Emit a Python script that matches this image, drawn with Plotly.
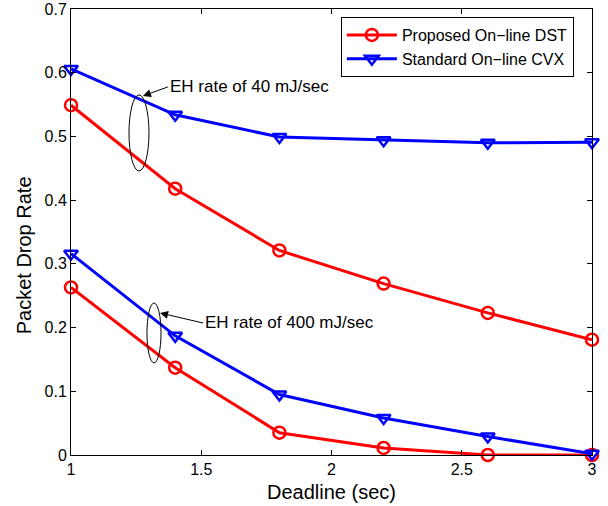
import plotly.graph_objects as go

deadline = [1.0, 1.4, 1.8, 2.2, 2.6, 3.0]
dst_40 = [0.549, 0.418, 0.321, 0.269, 0.223, 0.181]
cvx_40 = [0.606, 0.534, 0.499, 0.494, 0.490, 0.491]
dst_400 = [0.263, 0.137, 0.035, 0.011, 0.0, 0.0]
cvx_400 = [0.316, 0.187, 0.095, 0.058, 0.029, 0.002]

x_ticks = [1, 1.5, 2, 2.5, 3]
x_tick_labels = ["1", "1.5", "2", "2.5", "3"]
y_ticks = [0, 0.1, 0.2, 0.3, 0.4, 0.5, 0.6, 0.7]
y_tick_labels = ["0", "0.1", "0.2", "0.3", "0.4", "0.5", "0.6", "0.7"]

RED = "#ff0000"
BLUE = "#0000ff"
FONT = "Liberation Sans, Arial, Helvetica, sans-serif"

fig = go.Figure()

def add(y, color, symbol, name, show):
    fig.add_trace(go.Scatter(
        x=deadline, y=y, mode="lines+markers", name=name, showlegend=show,
        legendgroup=name,
        line=dict(color=color, width=3),
        marker=dict(symbol=symbol, size=12, color=color,
                    line=dict(color=color, width=2.5)),
        cliponaxis=False,
    ))

add(dst_40, RED, "circle-open", "Proposed On\u2212line DST", True)
add(cvx_40, BLUE, "triangle-down-open", "Standard On\u2212line CVX", True)
add(dst_400, RED, "circle-open", "Proposed On\u2212line DST", False)
add(cvx_400, BLUE, "triangle-down-open", "Standard On\u2212line CVX", False)

# ellipses
fig.add_shape(type="circle", xref="x", yref="y",
              x0=1.261 - 0.0384, x1=1.261 + 0.0384,
              y0=0.5055 - 0.0597, y1=0.5055 + 0.0597,
              line=dict(color="black", width=1))
fig.add_shape(type="circle", xref="x", yref="y",
              x0=1.3186 - 0.027, x1=1.3186 + 0.027,
              y0=0.1915 - 0.047, y1=0.1915 + 0.047,
              line=dict(color="black", width=1))

fig.add_annotation(x=1.276, y=0.5636, xref="x", yref="y",
                   text="EH rate of 40 mJ/sec", showarrow=True,
                   ax=25, ay=-9, xanchor="left", yanchor="middle",
                   arrowhead=2, arrowsize=1.6, arrowwidth=1, arrowcolor="black",
                   font=dict(family=FONT, size=17, color="black"))
fig.add_annotation(x=1.3417, y=0.2229, xref="x", yref="y",
                   text="EH rate of 400 mJ/sec", showarrow=True,
                   ax=43, ay=10, xanchor="left", yanchor="middle",
                   arrowhead=2, arrowsize=1.6, arrowwidth=1, arrowcolor="black",
                   font=dict(family=FONT, size=17, color="black"))

# axis titles
fig.add_annotation(x=0.5, y=-0.083, xref="paper", yref="paper",
                   text="Deadline (sec)", showarrow=False,
                   xanchor="center", yanchor="middle",
                   font=dict(family=FONT, size=20, color="black"))
fig.add_annotation(x=-0.090, y=0.448, xref="paper", yref="paper",
                   text="Packet Drop Rate", showarrow=False, textangle=-90,
                   xanchor="center", yanchor="middle",
                   font=dict(family=FONT, size=20, color="black"))

axis_common = dict(showline=True, linecolor="black", linewidth=1, mirror="ticks",
                   ticks="inside", ticklen=5, tickcolor="black", showgrid=False,
                   zeroline=False, automargin=False,
                   tickfont=dict(family=FONT, size=16, color="black"))

fig.update_xaxes(range=[1, 3], tickvals=x_ticks, ticktext=x_tick_labels, **axis_common)
fig.update_yaxes(range=[0, 0.7], tickvals=y_ticks, ticktext=y_tick_labels, **axis_common)

fig.update_layout(
    width=608, height=506,
    margin=dict(l=71, r=16, t=9, b=51),
    plot_bgcolor="white", paper_bgcolor="white",
    font=dict(family=FONT, color="black"),
    legend=dict(x=0.518, y=0.982, xanchor="left", yanchor="top",
                bgcolor="white", bordercolor="black", borderwidth=1,
                font=dict(family=FONT, size=16, color="black"),
                tracegroupgap=0, itemwidth=50),
)

fig.write_html("out.html", config={"displayModeBar": False},
               post_script="document.body.style.margin='0';document.body.style.padding='0';")
